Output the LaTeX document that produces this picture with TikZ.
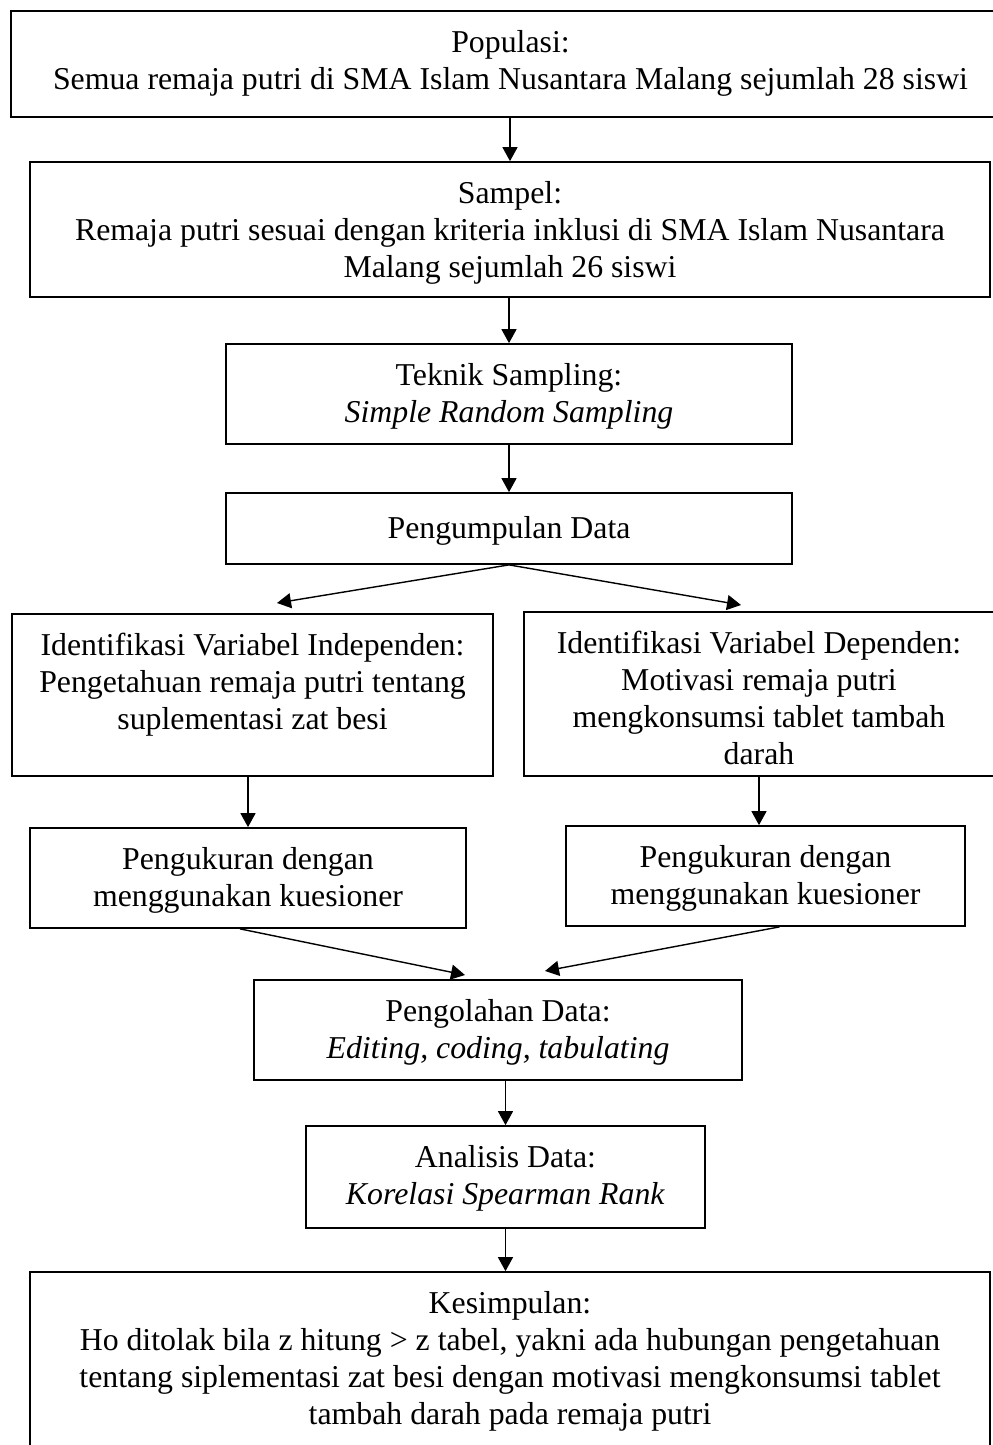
\documentclass[tikz,border=0pt]{standalone}
\usepackage{fontspec}
\setmainfont{Liberation Serif}
\usetikzlibrary{arrows.meta}

\begin{document}
\begin{tikzpicture}[x=0.02cm,y=-0.02cm,>={Triangle[length=0.28cm,width=0.3cm]},
	box/.style={draw,line width=1pt,inner sep=0pt},
	txt/.style={anchor=north,align=center,inner sep=0pt,font=\fontsize{18.1}{21.06}\selectfont,execute at begin node=\strut},
	wire/.style={line width=0.8pt}]
				\useasboundingbox (0,0) rectangle (993,1445);
				\node[box,minimum width=19.98cm,minimum height=2.12cm] (pop) at (510.5,64) {};
				\node[box,minimum width=19.2cm,minimum height=2.7cm] (sam) at (510,229.5) {};
				\node[box,minimum width=11.32cm,minimum height=2cm] (tek) at (509,394) {};
				\node[box,minimum width=11.32cm,minimum height=1.42cm] (kum) at (509,528.5) {};
				\node[box,minimum width=9.62cm,minimum height=3.24cm] (ind) at (252.5,695) {};
				\node[box,minimum width=9.4cm,minimum height=3.28cm] (dep) at (759,694) {};
				\node[box,minimum width=8.72cm,minimum height=2cm] (ukur1) at (248,878) {};
				\node[box,minimum width=7.98cm,minimum height=2cm] (ukur2) at (765.5,876) {};
				\node[box,minimum width=9.76cm,minimum height=2cm] (olah) at (498,1030) {};
				\node[box,minimum width=7.98cm,minimum height=2.04cm] (anal) at (505.5,1177) {};
				\node[box,minimum width=19.2cm,minimum height=3.56cm] (kes) at (510,1361) {};
				
				\node[txt] (pop-t) at ([yshift=-0.4cm]pop.north) {Populasi:\\Semua remaja putri di SMA Islam Nusantara Malang sejumlah 28 siswi};
				\node[txt] (sam-t) at ([yshift=-0.4cm]sam.north) {Sampel:\\Remaja putri sesuai dengan kriteria inklusi di SMA Islam Nusantara\\Malang sejumlah 26 siswi};
				\node[txt] (tek-t) at ([yshift=-0.4cm]tek.north) {Teknik Sampling:\\\textit{Simple Random Sampling}};
				\node[txt] (kum-t) at ([yshift=-0.4cm]kum.north) {Pengumpulan Data};
				\node[txt] (ind-t) at ([yshift=-0.4cm]ind.north) {Identifikasi Variabel Independen:\\Pengetahuan remaja putri tentang\\suplementasi zat besi};
				\node[txt] (dep-t) at ([yshift=-0.4cm]dep.north) {Identifikasi Variabel Dependen:\\Motivasi remaja putri\\mengkonsumsi tablet tambah\\darah};
				\node[txt] (ukur1-t) at ([yshift=-0.4cm]ukur1.north) {Pengukuran dengan\\menggunakan kuesioner};
				\node[txt] (ukur2-t) at ([yshift=-0.4cm]ukur2.north) {Pengukuran dengan\\menggunakan kuesioner};
				\node[txt] (olah-t) at ([yshift=-0.4cm]olah.north) {Pengolahan Data:\\\textit{Editing, coding, tabulating}};
				\node[txt] (anal-t) at ([yshift=-0.4cm]anal.north) {Analisis Data:\\\textit{Korelasi Spearman Rank}};
				\node[txt] (kes-t) at ([yshift=-0.4cm]kes.north) {Kesimpulan:\\Ho ditolak bila z hitung > z tabel, yakni ada hubungan pengetahuan\\tentang siplementasi zat besi dengan motivasi mengkonsumsi tablet\\tambah darah pada remaja putri};
				
				\coordinate (ind-in) at (277,603);
				\coordinate (dep-in) at (741,605);
				\coordinate (olah-l) at (465,975);
				\coordinate (olah-r) at (545,971);
				
				\draw[->,wire] (pop.south -| sam) -- (sam.north);
				\draw[->,wire] (sam.south -| tek) -- (tek.north);
				\draw[->,wire] (tek.south) -- (kum.north);
				\draw[->,wire] (kum.south) -- (ind-in);
				\draw[->,wire] (kum.south) -- (dep-in);
				\draw[->,wire] (ind.south -| ukur1) -- (ukur1.north);
				\draw[->,wire] (dep.south) -- (dep.south |- ukur2.north);
				\draw[->,wire] ([xshift=-0.16cm]ukur1.south) -- (olah-l);
				\draw[->,wire] ([xshift=0.28cm]ukur2.south) -- (olah-r);
				\draw[->,wire] (olah.south -| anal) -- (anal.north);
				\draw[->,wire] (anal.south) -- (anal.south |- kes.north);
			\end{tikzpicture}
\end{document}
